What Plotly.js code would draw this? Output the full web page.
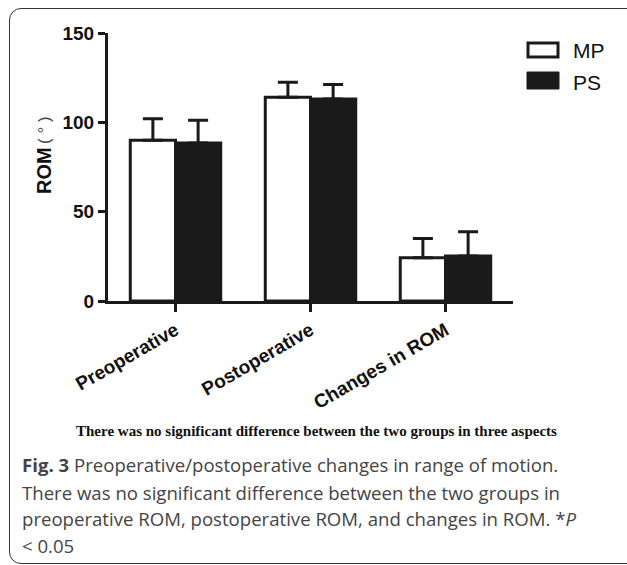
<!DOCTYPE html>
<html>
<head>
<meta charset="utf-8">
<script src="https://cdn.plot.ly/plotly-3.0.1.min.js"></script>
<style>
  html, body { margin: 0; padding: 0; background: #fff; }
  #wrap { position: relative; width: 627px; height: 565px; overflow: hidden; }
  #frame { position: absolute; left: 9px; top: 8px; width: 640px; height: 554px;
           border: 1.5px solid #333; border-radius: 12px; pointer-events: none; }
  #chart { position: absolute; left: 0; top: 0; width: 627px; height: 565px; }
</style>
</head>
<body>
<div id="wrap">
  <div id="chart"></div>
  <div id="frame"></div>
</div>
<script>
// ---- data ----
const categories = ['Preoperative', 'Postoperative', 'Changes in ROM'];
const seriesNames = ['MP', 'PS'];
const mpMean = [90, 114, 24.2];
const mpSD = [12, 8.5, 10.8];
const psMean = [88.5, 113, 25.2];
const psSD = [12.7, 8.2, 13.5];
const yTicks = [0, 50, 100, 150];
const yTitle = 'ROM';
const yUnit = '( ° )';
const captionTop = 'There was no significant difference between the two groups in three aspects';
const captionLines = [
  '<b>Fig. 3</b> Preoperative/postoperative changes in range of motion.',
  'There was no significant difference between the two groups in',
  'preoperative ROM, postoperative ROM, and changes in ROM. *<i>P</i>',
  '&lt; 0.05'
];

// ---- helpers: figure pixel -> paper ----
const W = 627, H = 565;
const px = x => x / W;
const py = y => 1 - y / H;

const zeros = mpMean.map(() => 0);
const tickFont = { family: 'Liberation Sans, Arial, sans-serif', size: 19, color: '#111', weight: 'bold' };

const traces = [
  {
    type: 'bar', name: seriesNames[0], x: categories, y: mpMean,
    marker: { color: '#ffffff', line: { color: '#1a1a1a', width: 3 } },
    error_y: { type: 'data', symmetric: false, array: mpSD, arrayminus: zeros,
               color: '#1a1a1a', thickness: 3, width: 10 },
    showlegend: false
  },
  {
    type: 'bar', name: seriesNames[1], x: categories, y: psMean,
    marker: { color: '#1a1a1a', line: { color: '#1a1a1a', width: 3 } },
    error_y: { type: 'data', symmetric: false, array: psSD, arrayminus: zeros,
               color: '#1a1a1a', thickness: 3, width: 10 },
    showlegend: false
  }
];

const annotations = [
  { xref: 'paper', yref: 'paper', x: px(44), y: py(171), xanchor: 'center', yanchor: 'middle',
    textangle: -90, showarrow: false, text: yTitle,
    font: { family: 'Liberation Sans, Arial, sans-serif', size: 20, color: '#111', weight: 'bold' } },
  { xref: 'paper', yref: 'paper', x: px(44), y: py(130), xanchor: 'center', yanchor: 'middle',
    textangle: -90, showarrow: false, text: yUnit,
    font: { family: 'Liberation Sans, Arial, sans-serif', size: 17, color: '#444' } },
  { xref: 'paper', yref: 'paper', x: px(571), y: py(50), xanchor: 'left', yanchor: 'middle',
    showarrow: false, text: seriesNames[0],
    font: { family: 'Liberation Sans, Arial, sans-serif', size: 21, color: '#111' } },
  { xref: 'paper', yref: 'paper', x: px(571), y: py(82), xanchor: 'left', yanchor: 'middle',
    showarrow: false, text: seriesNames[1],
    font: { family: 'Liberation Sans, Arial, sans-serif', size: 21, color: '#111' } },
  { xref: 'paper', yref: 'paper', x: px(316), y: py(431), xanchor: 'center', yanchor: 'middle',
    showarrow: false, text: '<b>' + captionTop + '</b>',
    font: { family: 'Liberation Serif, Times New Roman, serif', size: 15, color: '#111' } }
];
const lineY = [465, 492, 518, 545];
captionLines.forEach((t, i) => {
  annotations.push({ xref: 'paper', yref: 'paper', x: px(20), y: py(lineY[i]), xanchor: 'left',
    yanchor: 'middle', showarrow: false, align: 'left', text: t,
    font: { family: 'Open Sans, sans-serif', size: 18.6, color: '#444' } });
});

const shapes = [
  { type: 'rect', xref: 'paper', yref: 'paper', x0: px(528), x1: px(558), y0: py(43), y1: py(57),
    line: { color: '#1a1a1a', width: 3 }, fillcolor: '#ffffff' },
  { type: 'rect', xref: 'paper', yref: 'paper', x0: px(527), x1: px(559), y0: py(72), y1: py(89),
    line: { color: '#1a1a1a', width: 1 }, fillcolor: '#1a1a1a' }
];

const layout = {
  width: W, height: H, autosize: false,
  margin: { l: 0, r: 0, t: 0, b: 0 },
  paper_bgcolor: 'rgba(0,0,0,0)', plot_bgcolor: 'rgba(0,0,0,0)',
  barmode: 'group', bargap: 0.33, bargroupgap: 0,
  showlegend: false,
  xaxis: {
    domain: [px(108), px(513)], range: [-0.5, 2.5],
    showline: true, linecolor: '#1a1a1a', linewidth: 3,
    ticks: 'outside', ticklen: 8, tickwidth: 2.5, tickcolor: '#1a1a1a',
    tickangle: -30, tickfont: tickFont, showgrid: false, zeroline: false
  },
  yaxis: {
    domain: [py(301), py(33)], range: [0, 150],
    tickvals: yTicks, ticktext: yTicks.map(String),
    showline: true, linecolor: '#1a1a1a', linewidth: 3,
    ticks: 'outside', ticklen: 7, tickwidth: 3, tickcolor: '#1a1a1a',
    tickfont: tickFont, showgrid: false, zeroline: false
  },
  annotations: annotations,
  shapes: shapes
};

Plotly.newPlot('chart', traces, layout, { staticPlot: true, displayModeBar: false });
</script>
</body>
</html>
